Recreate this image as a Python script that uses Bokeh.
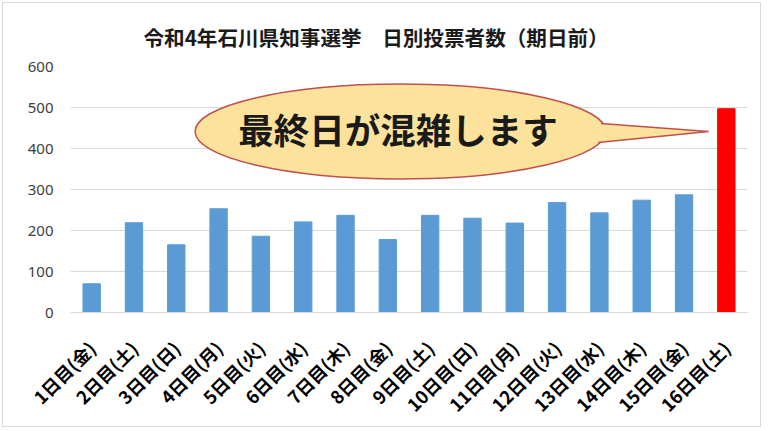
import math
from bokeh.plotting import figure
from bokeh.models import FactorRange, Range1d, FixedTicker, ColumnDataSource
from bokeh.core.properties import value
from bokeh.embed import file_html
from bokeh.resources import INLINE

# ---- data ----
days = ["1日目(金)", "2日目(土)", "3日目(日)", "4日目(月)", "5日目(火)", "6日目(水)",
        "7日目(木)", "8日目(金)", "9日目(土)", "10日目(日)", "11日目(月)", "12日目(火)",
        "13日目(水)", "14日目(木)", "15日目(金)", "16日目(土)"]
voters = [70, 219, 165, 253, 186, 221, 237, 178, 237, 230, 218, 268, 243, 274, 287, 497]
y_ticks = [0, 100, 200, 300, 400, 500, 600]
title_text = "令和4年石川県知事選挙　日別投票者数（期日前）"
callout_text = "最終日が混雑します"

BLUE = "#5B9BD5"
RED = "#FF0000"
colors = [BLUE] * (len(days) - 1) + [RED]
JP = "Noto Sans CJK JP"

p = figure(x_range=FactorRange(*days), y_range=Range1d(0, 600),
           width=759, height=425, output_backend="svg", toolbar_location=None,
           min_border_left=67, min_border_right=15, min_border_top=63, min_border_bottom=116)
p.styles = {"border": "1px solid #D9D9D9", "margin": "2px 0 0 2px"}

p.title.text = title_text
p.title.text_font = JP
p.title.text_font_size = "20.6px"
p.title.text_font_style = "bold"
p.title.text_color = "#1a1a1a"
p.title.align = "left"
p.title.vertical_align = "top"
p.title.offset = 73
p.title.standoff = 26

p.outline_line_color = None
p.xgrid.grid_line_color = None
p.ygrid.grid_line_color = "#D9D9D9"
p.ygrid.grid_line_width = 1

p.yaxis.ticker = FixedTicker(ticks=y_ticks)
p.yaxis.axis_line_color = None
p.yaxis.major_tick_line_color = None
p.yaxis.minor_tick_line_color = None
p.yaxis.major_label_text_font = "Noto Sans"
p.yaxis.major_label_text_font_size = "15px"
p.yaxis.major_label_text_color = "#404040"
p.yaxis.major_label_standoff = 11

p.xaxis.axis_line_color = "#D9D9D9"
p.xaxis.major_tick_line_color = None
p.xaxis.minor_tick_line_color = None
p.xaxis.major_label_orientation = math.pi / 4
p.xaxis.major_label_text_font = JP
p.xaxis.major_label_text_font_size = "18px"
p.xaxis.major_label_text_font_style = "bold"
p.xaxis.major_label_text_color = "#000000"
p.xaxis.major_label_standoff = 26

src = ColumnDataSource(dict(day=days, v=voters, c=colors))
p.vbar(x="day", top="v", width=0.41, color="c", source=src)

# ---- callout (annotation layout, synthetic category coords) ----
cx, cy, cw, ch = 7.80, 441.5, 9.71, 231.7
fill = "#FDE29B"
edge = "#C0504D"
p.ellipse(x=[cx], y=[cy], width=[cw], height=[ch], fill_color=fill,
          line_color=edge, line_width=1.5)
a, b = cw / 2, ch / 2
dy_up, dy_lo = 19.5, -26.9
xu = cx + a * math.sqrt(1 - (dy_up / b) ** 2) - 0.05
xl = cx + a * math.sqrt(1 - (dy_lo / b) ** 2) - 0.05
tip = (15.08, cy)
p.patch([cx + 3.5, xu, tip[0], xl], [cy, cy + dy_up, tip[1], cy + dy_lo],
        fill_color=fill, line_color=None)
p.line([xu, tip[0], xl], [cy + dy_up, tip[1], cy + dy_lo], line_color=edge, line_width=1.5)
p.text(x=[7.74], y=[cy + 7], text=[callout_text], text_font=value(JP),
       text_font_size="35.5px", text_font_style="bold", text_color="#1a1a1a",
       text_align="center", text_baseline="middle")

open("out.html", "w").write(file_html(p, INLINE))
